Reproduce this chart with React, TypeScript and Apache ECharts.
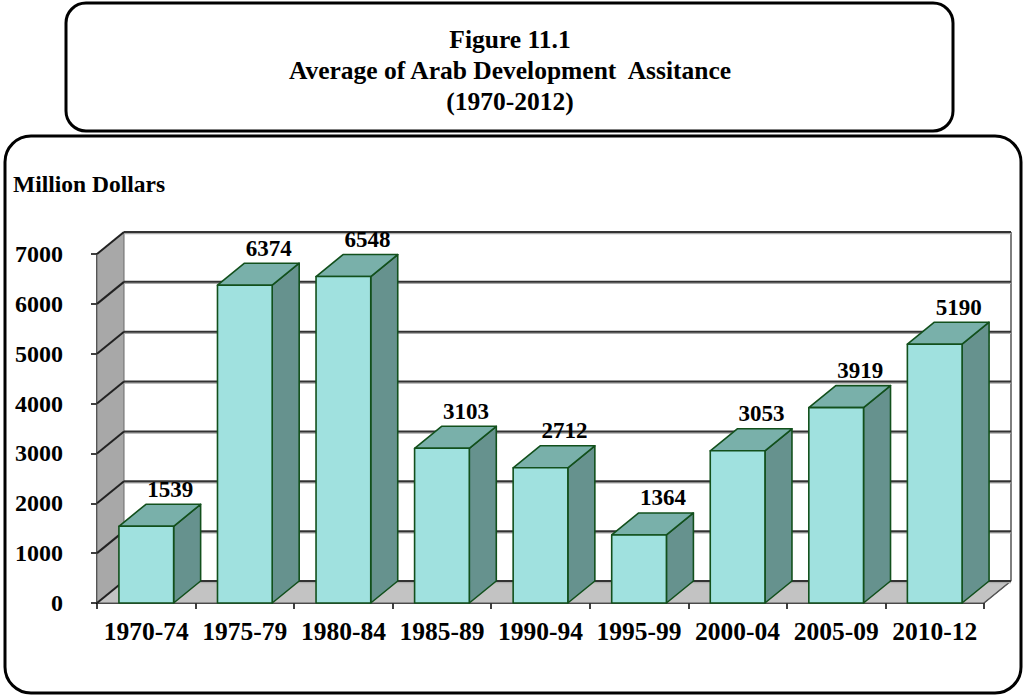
import React, { useEffect, useRef } from "react";
import * as echarts from "echarts";

const categories = ["1970-74", "1975-79", "1980-84", "1985-89", "1990-94", "1995-99", "2000-04", "2005-09", "2010-12"];
const values = [1539, 6374, 6548, 3103, 2712, 1364, 3053, 3919, 5190];
const yTicks = [0, 1000, 2000, 3000, 4000, 5000, 6000, 7000];
const titleLines = ["Figure 11.1", "Average of Arab Development  Assitance", "(1970-2012)"];
const unitLabel = "Million Dollars";

const FONT = '"Liberation Serif", "Times New Roman", serif';
const DX = 27;
const DY = -22;

export default function App() {
  const ref = useRef<HTMLDivElement>(null);
  useEffect(() => {
    if (!ref.current) return;
    const chart = echarts.init(ref.current, undefined, { renderer: "svg" });

    const wallsRender = (params: any, api: any) => {
      const cs = params.coordSys;
      const l = cs.x, r = cs.x + cs.width, t = cs.y, b = cs.y + cs.height;
      return {
        type: "group",
        children: [
          { type: "polygon", shape: { points: [[l, t], [l + DX, t + DY], [l + DX, b + DY], [l, b]] }, style: { fill: "#a8a8a8", stroke: "#6a6a6a", lineWidth: 1 } },
          { type: "polygon", shape: { points: [[l, b], [r, b], [r + DX, b + DY], [l + DX, b + DY]] }, style: { fill: "#c3c3c3", stroke: "#555", lineWidth: 1 } },
          { type: "line", shape: { x1: r + DX, y1: t + DY, x2: r + DX, y2: b + DY }, style: { stroke: "#555", lineWidth: 1.5 } },
          { type: "line", shape: { x1: r, y1: b, x2: r + DX, y2: b + DY }, style: { stroke: "#555", lineWidth: 1.5 } },
        ],
      };
    };

    const gridRender = (params: any, api: any) => {
      const cs = params.coordSys;
      const l = cs.x, r = cs.x + cs.width;
      const y = api.coord([0, api.value(1)])[1];
      return {
        type: "group",
        children: [
          { type: "line", shape: { x1: l + DX, y1: y + DY + 1.5, x2: r + DX, y2: y + DY + 1.5 }, style: { stroke: "#aaaaaa", lineWidth: 1.5 } },
          { type: "line", shape: { x1: l + DX, y1: y + DY, x2: r + DX, y2: y + DY }, style: { stroke: "#333333", lineWidth: 2 } },
          { type: "line", shape: { x1: l, y1: y, x2: l + DX, y2: y + DY }, style: { stroke: "#222222", lineWidth: 2 } },
        ],
      };
    };

    const barRender = (params: any, api: any) => {
      const idx = api.value(0);
      const val = api.value(1);
      const base = api.coord([idx, 0]);
      const top = api.coord([idx, val]);
      const bw = api.size([1, 0])[0] * 0.555;
      const x0 = base[0] - bw / 2;
      const x1 = base[0] + bw / 2;
      const ty = top[1];
      const by = base[1];
      const edge = { stroke: "#12501c", lineWidth: 1.6, lineJoin: "round" };
      return {
        type: "group",
        children: [
          { type: "polygon", shape: { points: [[x1, ty], [x1 + DX, ty + DY], [x1 + DX, by + DY], [x1, by]] }, style: { fill: "#66928e", ...edge } },
          { type: "polygon", shape: { points: [[x0, ty], [x1, ty], [x1 + DX, ty + DY], [x0 + DX, ty + DY]] }, style: { fill: "#79b0aa", ...edge } },
          { type: "polygon", shape: { points: [[x0, ty], [x1, ty], [x1, by], [x0, by]] }, style: { fill: "#a0e1df", ...edge } },
          {
            type: "text",
            x: base[0] + 24,
            y: ty + DY - 15,
            style: { text: String(val), textAlign: "center", textVerticalAlign: "middle", font: `bold 23px ${FONT}`, fill: "#000" },
          },
        ],
      };
    };

    chart.setOption({
      animation: false,
      backgroundColor: "#ffffff",
      grid: { left: 97, right: 42, top: 254, bottom: 95, containLabel: false },
      xAxis: {
        type: "category",
        data: categories,
        boundaryGap: true,
        axisLine: { show: true, lineStyle: { color: "#000", width: 1.5 } },
        axisTick: { show: true, length: 6, lineStyle: { color: "#000", width: 1.5 } },
        axisLabel: { interval: 0, fontSize: 25.5, fontWeight: "bold", fontFamily: FONT, color: "#000", margin: 15, hideOverlap: false },
        splitLine: { show: false },
      },
      yAxis: {
        type: "value",
        min: 0,
        max: 7000,
        interval: 1000,
        axisLine: { show: true, lineStyle: { color: "#000", width: 1.5 } },
        axisTick: { show: true, length: 6, lineStyle: { color: "#000", width: 1.5 } },
        axisLabel: { fontSize: 24, fontWeight: "bold", fontFamily: FONT, color: "#000", margin: 34, formatter: (v: number) => String(v) },
        splitLine: { show: false },
      },
      graphic: [
        { type: "rect", shape: { x: 66, y: 3, width: 887, height: 128, r: 20 }, style: { fill: "none", stroke: "#000", lineWidth: 3 }, z: 100 },
        { type: "rect", shape: { x: 5, y: 136, width: 1016, height: 557, r: 26 }, style: { fill: "none", stroke: "#000", lineWidth: 3 }, z: 100 },
        ...titleLines.map((t, i) => ({
          type: "text",
          x: 510,
          y: 39 + i * 31,
          style: { text: t, textAlign: "center", textVerticalAlign: "middle", font: `bold 25.5px ${FONT}`, fill: "#000" },
          z: 100,
        })),
        {
          type: "text",
          x: 13,
          y: 184,
          style: { text: unitLabel, textAlign: "left", textVerticalAlign: "middle", font: `bold 23.5px ${FONT}`, fill: "#000" },
          z: 100,
        },
      ],
      series: [
        { type: "custom", name: "walls", data: [[0, 0]], renderItem: wallsRender, z: 1, silent: true },
        { type: "custom", name: "grid", data: yTicks.map((v) => [0, v]), renderItem: gridRender, z: 2, silent: true },
        { type: "custom", name: "bars", data: values.map((v, i) => [i, v]), renderItem: barRender, z: 3, encode: { x: 0, y: 1 } },
      ],
    });
    return () => chart.dispose();
  }, []);

  return <div ref={ref} style={{ position: "fixed", left: 0, top: 0, width: 1026, height: 698 }} />;
}
